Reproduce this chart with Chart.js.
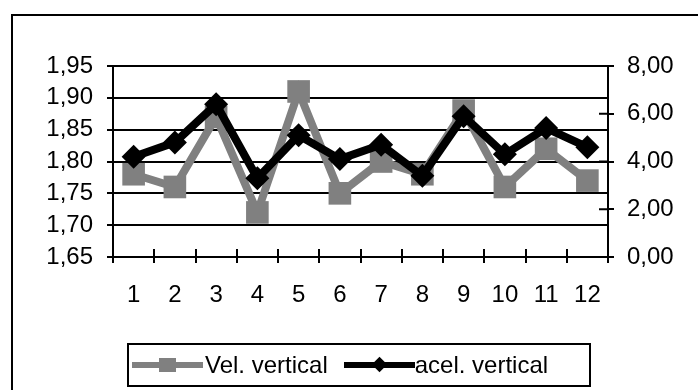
<!DOCTYPE html>
<html>
<head>
<meta charset="utf-8">
<script src="https://cdn.jsdelivr.net/npm/chart.js@4.4.1/dist/chart.umd.min.js"></script>
<style>
    html, body { margin: 0; padding: 0; background: #fff; }
    #wrap { position: relative; width: 698px; height: 390px; overflow: hidden; font-family: "Liberation Sans", Arial, sans-serif; }
    #frame { position: absolute; left: 11px; top: 14px; width: 720px; height: 420px; border-top: 2px solid #000; border-left: 2px solid #000; }
    #chart { position: absolute; left: 0; top: 0; }
    #legend { position: absolute; left: 127px; top: 343px; width: 464px; height: 44px; box-sizing: border-box;
        border: 2px solid #000; display: flex; align-items: center; font-size: 24px; color: #000; }
    .sample { position: relative; width: 71px; height: 20px; }
    .sample .ln { position: absolute; left: 0; right: 0; top: 7px; height: 6px; }
    .sample .mk { position: absolute; }
</style>
</head>
<body>
<div id="wrap">
    <div id="frame"></div>
    <canvas id="chart" width="698" height="390"></canvas>
    <div id="legend"></div>
</div>
<script>
// Data
const labels = ['1', '2', '3', '4', '5', '6', '7', '8', '9', '10', '11', '12'];
const velVertical = [1.78, 1.76, 1.87, 1.72, 1.91, 1.75, 1.80, 1.78, 1.88, 1.76, 1.82, 1.77];
const acelVertical = [4.2, 4.8, 6.4, 3.3, 5.1, 4.1, 4.7, 3.4, 5.9, 4.3, 5.4, 4.6];
const seriesNames = ['Vel. vertical', 'acel. vertical'];

const GRAY = '#808080';
const FONT = { family: '"Liberation Sans", Arial, sans-serif', size: 24 };

function comma(v) {
    return Number(v).toFixed(2).replace('.', ',');
}

// Tick marks that cross the axis lines (x axis and right axis)
const crossTicks = {
    id: 'crossTicks',
    beforeDatasetsDraw(chart) {
        const { ctx, chartArea, scales } = chart;
        ctx.save();
        ctx.strokeStyle = '#000';
        ctx.lineWidth = 2;
        ctx.beginPath();
        for (let i = 0; i <= labels.length; i++) {
            const px = Math.round(scales.x.getPixelForValue(i - 0.5));
            ctx.moveTo(px, chartArea.bottom);
            ctx.lineTo(px, chartArea.bottom - 8);
        }
        scales.y2.ticks.forEach(t => {
            const py = scales.y2.getPixelForValue(t.value);
            ctx.moveTo(chartArea.right - 9, py);
            ctx.lineTo(chartArea.right, py);
        });
        ctx.stroke();
        ctx.restore();
    }
};

function initChart() {
    const ctx = document.getElementById('chart').getContext('2d');
    new Chart(ctx, {
        type: 'line',
        data: {
            labels: labels,
            datasets: [{
                label: seriesNames[0],
                data: velVertical,
                yAxisID: 'y',
                borderColor: GRAY,
                backgroundColor: GRAY,
                borderWidth: 8,
                pointStyle: 'rect',
                pointRadius: 16,
                pointBorderWidth: 0,
                tension: 0,
                order: 1
            }, {
                label: seriesNames[1],
                data: acelVertical,
                yAxisID: 'y2',
                borderColor: '#000',
                backgroundColor: '#000',
                borderWidth: 8,
                pointStyle: 'rectRot',
                pointRadius: 12,
                pointBorderWidth: 0,
                tension: 0,
                order: 0
            }]
        },
        options: {
            responsive: false,
            animation: false,
            layout: { padding: { top: 66, left: 0, right: 0, bottom: 73 } },
            plugins: { legend: { display: false }, tooltip: { enabled: false } },
            scales: {
                x: {
                    offset: true,
                    grid: { display: true, offset: true, drawOnChartArea: false, color: '#000', lineWidth: 2, tickLength: 6 },
                    border: { display: true, color: '#000', width: 2 },
                    ticks: { color: '#000', font: FONT, padding: 18, maxRotation: 0, autoSkip: false },
                    afterFit(scale) { scale.height = 60; }
                },
                y: {
                    position: 'left',
                    min: 1.65,
                    max: 1.95,
                    ticks: { stepSize: 0.05, color: '#000', font: FONT, padding: 14, callback: v => comma(v) },
                    grid: { color: '#000', lineWidth: 2, tickLength: 6 },
                    border: { display: true, color: '#000', width: 2 },
                    afterFit(scale) { scale.width = 113; }
                },
                y2: {
                    position: 'right',
                    min: 0,
                    max: 8,
                    ticks: { stepSize: 2, color: '#000', font: FONT, padding: 13, callback: v => comma(v) },
                    grid: { drawOnChartArea: false, color: '#000', lineWidth: 2, tickLength: 6 },
                    border: { display: true, color: '#000', width: 2 },
                    afterFit(scale) { scale.width = 90; }
                }
            }
        },
        plugins: [crossTicks]
    });
}

function buildLegend() {
    const legend = document.getElementById('legend');
    legend.innerHTML = `
        <div class="sample" style="margin-left:3px">
            <div class="ln" style="background:${GRAY}"></div>
            <div class="mk" style="left:27px;top:3px;width:17px;height:14px;background:${GRAY}"></div>
        </div>
        <span style="margin-left:2px">${seriesNames[0]}</span>
        <div class="sample" style="margin-left:16px">
            <div class="ln" style="background:#000"></div>
            <div class="mk" style="left:30px;top:4px;width:11px;height:11px;background:#000;transform:rotate(45deg)"></div>
        </div>
        <span>${seriesNames[1]}</span>
    `;
}

document.addEventListener('DOMContentLoaded', () => {
    initChart();
    buildLegend();
});
</script>
</body>
</html>
